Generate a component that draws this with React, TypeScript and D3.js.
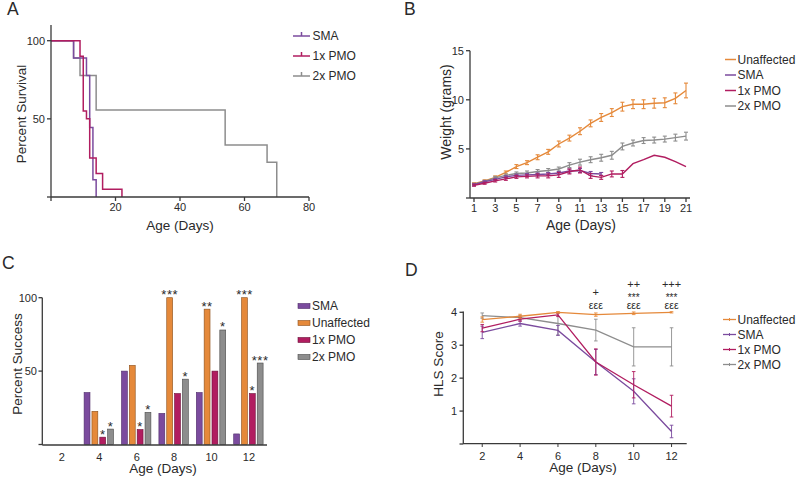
import React from "react";
import * as d3 from "d3";

// ---------- Panel A: survival ----------
const smaSurvDays = [0, 7, 11, 12, 13, 14];
const smaSurvPct = [100, 88.9, 77.8, 44.4, 11.1, 0];
const pmo1SurvDays = [0, 9, 10, 11, 12, 14, 16, 22];
const pmo1SurvPct = [100, 90, 55, 50, 25, 15, 5, 0];
const pmo2SurvDays = [0, 7, 9, 14, 54, 67, 70];
const pmo2SurvPct = [100, 88.9, 77.8, 55.6, 33.3, 22.2, 0];
const survXTicks = [0, 20, 40, 60, 80];
const survYTicks = [0, 50, 100];

// ---------- Panel B: weight ----------
const weightDays = [1, 2, 3, 4, 5, 6, 7, 8, 9, 10, 11, 12, 13, 14, 15, 16, 17, 18, 19, 20, 21];
const unafWeight = [1.45, 1.75, 2.1, 2.6, 3.2, 3.6, 4.15, 4.7, 5.5, 6.1, 6.8, 7.6, 8.2, 8.7, 9.3, 9.55, 9.55, 9.65, 9.7, 10.15, 10.95];
const unafWeightErr = [0.1, 0.1, 0.15, 0.15, 0.2, 0.2, 0.25, 0.25, 0.3, 0.3, 0.35, 0.35, 0.4, 0.4, 0.45, 0.45, 0.45, 0.5, 0.5, 0.55, 0.75];
const pmo2Weight = [1.4, 1.7, 2.05, 2.3, 2.5, 2.55, 2.7, 2.8, 2.95, 3.35, 3.65, 3.9, 4.1, 4.35, 5.25, 5.6, 5.85, 5.9, 6.0, 6.15, 6.3];
const pmo2WeightErr = [0.1, 0.1, 0.15, 0.15, 0.15, 0.2, 0.2, 0.2, 0.2, 0.25, 0.3, 0.3, 0.35, 0.4, 0.35, 0.3, 0.3, 0.3, 0.3, 0.35, 0.4];
const smaWeight = [1.35, 1.65, 1.9, 2.15, 2.3, 2.35, 2.4, 2.45, 2.55, 2.75, 2.8, 2.5, 2.45];
const smaWeightErr = [0.1, 0.1, 0.1, 0.12, 0.12, 0.15, 0.15, 0.15, 0.15, 0.2, 0.2, 0.2, 0.15];
const pmo1Weight = [1.3, 1.5, 1.75, 1.95, 2.15, 2.2, 2.25, 2.25, 2.35, 2.7, 2.85, 2.25, 2.1, 2.45, 2.45, 3.5, 3.9, 4.35, 4.15, 3.7, 3.2];
const pmo1WeightErr = [0.1, 0.1, 0.12, 0.15, 0.15, 0.15, 0.2, 0.2, 0.25, 0.25, 0.3, 0.25, 0.2, 0.3, 0.35, 0, 0, 0, 0, 0, 0];
const weightXTicks = [1, 3, 5, 7, 9, 11, 13, 15, 17, 19, 21];
const weightYTicks = [0, 5, 10, 15];

// ---------- Panel C: righting success ----------
const successDays = ["2", "4", "6", "8", "10", "12"];
const smaSuccess = [0, 35.4, 50, 21.2, 35.4, 7.2];
const unafSuccess = [0, 22.6, 53.9, 100, 92.2, 100];
const pmo1Success = [0, 5, 10.2, 34.7, 50, 34.7];
const pmo2Success = [0, 10.5, 21.9, 44.5, 78, 55.5];
const smaStars = ["", "", "", "", "", ""];
const unafStars = ["", "", "", "***", "**", "***"];
const pmo1Stars = ["", "*", "*", "", "", "*"];
const pmo2Stars = ["", "*", "*", "*", "*", "***"];
const successYTicks = [0, 50, 100];

// ---------- Panel D: HLS score ----------
const hlsDays = [2, 4, 6, 8, 10, 12];
const unafHls = [3.78, 3.88, 4.0, 3.93, 3.97, 4.0];
const unafHlsErr = [0.08, 0.06, 0.02, 0.05, 0.04, 0.02];
const smaHls = [3.39, 3.66, 3.45, 2.49, 1.6, 0.38];
const smaHlsErr = [0.19, 0.08, 0.15, 0.38, 0.38, 0.19];
const pmo1Hls = [3.52, 3.79, 3.92, 2.49, 1.8, 1.15];
const pmo1HlsErr = [0.11, 0.06, 0.05, 0.4, 0.4, 0.33];
const pmo2Hls = [3.9, 3.84, 3.66, 3.46, 2.95, 2.95];
const pmo2HlsErr = [0.08, 0.06, 0.35, 0.33, 0.58, 0.58];
const hlsPlus = ["", "", "", "+", "++", "+++"];
const hlsStars = ["", "", "", "", "***", "***"];
const hlsEps = ["", "", "", "εεε", "εεε", "εεε"];
const hlsYTicks = [0, 1, 2, 3, 4];

const C_SMA = "#7B4B9E";
const C_UNAF = "#E5893A";
const C_PMO1 = "#B11D60";
const C_PMO2 = "#8D8D8D";
const AX = "#3a3a3a";
const TXT = "#2a2a2a";
const FONT = "'Liberation Sans', Arial, Helvetica, sans-serif";

type Pt = { x: number; y: number; e?: number };

function zip(xs: number[], ys: number[], es?: number[]): Pt[] {
  return ys.map((y, i) => ({ x: xs[i], y, e: es ? es[i] : 0 }));
}

function ErrBars({ pts, xs, ys, color, cap = 2, w = 1 }: any) {
  return (
    <g stroke={color} strokeWidth={w}>
      {pts.filter((p: Pt) => (p.e || 0) > 0).map((p: Pt, i: number) => {
        const x = xs(p.x);
        const y1 = ys(p.y - (p.e || 0));
        const y2 = ys(p.y + (p.e || 0));
        return (
          <g key={i}>
            <line x1={x} x2={x} y1={y1} y2={y2} />
            <line x1={x - cap} x2={x + cap} y1={y1} y2={y1} />
            <line x1={x - cap} x2={x + cap} y1={y2} y2={y2} />
          </g>
        );
      })}
    </g>
  );
}

function PanelA() {
  const x = d3.scaleLinear().domain([0, 80]).range([51, 309]);
  const y = d3.scaleLinear().domain([0, 100]).range([197, 40.7]);
  const line = d3
    .line<Pt>()
    .x((d) => x(d.x))
    .y((d) => y(d.y))
    .curve(d3.curveStepAfter);
  const series = [
    { name: "SMA", pts: zip(smaSurvDays, smaSurvPct), c: C_SMA },
    { name: "1x PMO", pts: zip(pmo1SurvDays, pmo1SurvPct), c: C_PMO1 },
    { name: "2x PMO", pts: zip(pmo2SurvDays, pmo2SurvPct), c: C_PMO2 },
  ];
  const drawOrder = [series[2], series[0], series[1]];
  return (
    <g>
      <text x={7} y={15} fontSize={17.5} fill={TXT}>A</text>
      {drawOrder.map((s) => (
        <path key={s.name} d={line(s.pts) || ""} fill="none" stroke={s.c} strokeWidth={1.5} />
      ))}
      <line x1={51} x2={51} y1={25} y2={197} stroke={AX} strokeWidth={1.3} />
      <line x1={51} x2={309} y1={197} y2={197} stroke={AX} strokeWidth={1.3} />
      {survXTicks.map((t) => (
        <g key={t}>
          <line x1={x(t)} x2={x(t)} y1={197} y2={201} stroke={AX} strokeWidth={1.3} />
          {t > 0 && (
            <text x={x(t)} y={210.5} fontSize={11} textAnchor="middle" fill={TXT}>{t}</text>
          )}
        </g>
      ))}
      {survYTicks.map((t) => (
        <g key={t}>
          <line x1={47} x2={51} y1={y(t)} y2={y(t)} stroke={AX} strokeWidth={1.3} />
          {t > 0 && (
            <text x={45} y={y(t)} dy="0.35em" fontSize={11} textAnchor="end" fill={TXT}>{t}</text>
          )}
        </g>
      ))}
      <text x={180} y={229.5} fontSize={13.5} textAnchor="middle" fill={TXT}>Age (Days)</text>
      <text transform="translate(25.5,114) rotate(-90)" fontSize={13.5} textAnchor="middle" fill={TXT}>Percent Survival</text>
      {series.map((s, i) => {
        const ly = 36 + i * 20;
        return (
          <g key={s.name}>
            <line x1={293} x2={310} y1={ly} y2={ly} stroke={s.c} strokeWidth={1.5} />
            <line x1={301.5} x2={301.5} y1={ly - 4} y2={ly} stroke={s.c} strokeWidth={1.5} />
            <text x={312.5} y={ly} dy="0.36em" fontSize={12} fill={TXT}>{s.name}</text>
          </g>
        );
      })}
    </g>
  );
}

function PanelB() {
  const x = d3.scaleLinear().domain([1, 21]).range([474, 686]);
  const y = d3.scaleLinear().domain([0, 15]).range([198, 50.7]);
  const line = d3.line<Pt>().x((d) => x(d.x)).y((d) => y(d.y));
  const series = [
    { name: "Unaffected", pts: zip(weightDays, unafWeight, unafWeightErr), c: C_UNAF },
    { name: "SMA", pts: zip(weightDays, smaWeight, smaWeightErr), c: C_SMA },
    { name: "1x PMO", pts: zip(weightDays, pmo1Weight, pmo1WeightErr), c: C_PMO1 },
    { name: "2x PMO", pts: zip(weightDays, pmo2Weight, pmo2WeightErr), c: C_PMO2 },
  ];
  const drawOrder = [series[0], series[3], series[1], series[2]];
  return (
    <g>
      <text x={404} y={15} fontSize={17.5} fill={TXT}>B</text>
      {drawOrder.map((s) => (
        <g key={s.name}>
          <path d={line(s.pts) || ""} fill="none" stroke={s.c} strokeWidth={1.4} />
          <ErrBars pts={s.pts} xs={x} ys={y} color={s.c} cap={2} w={1.1} />
        </g>
      ))}
      <line x1={470} x2={470} y1={50.7} y2={198} stroke={AX} strokeWidth={1.3} />
      <line x1={470} x2={690} y1={198} y2={198} stroke={AX} strokeWidth={1.3} />
      {weightXTicks.map((t) => (
        <g key={t}>
          <line x1={x(t)} x2={x(t)} y1={198} y2={202} stroke={AX} strokeWidth={1.3} />
          <text x={x(t)} y={212} fontSize={11} textAnchor="middle" fill={TXT}>{t}</text>
        </g>
      ))}
      {weightYTicks.map((t) => (
        <g key={t}>
          <line x1={466} x2={470} y1={y(t)} y2={y(t)} stroke={AX} strokeWidth={1.3} />
          {t > 0 && (
            <text x={464} y={y(t)} dy="0.35em" fontSize={11} textAnchor="end" fill={TXT}>{t}</text>
          )}
        </g>
      ))}
      <text x={581} y={229.5} fontSize={14} textAnchor="middle" fill={TXT}>Age (Days)</text>
      <text transform="translate(450.5,112) rotate(-90)" fontSize={14} textAnchor="middle" fill={TXT}>Weight (grams)</text>
      {series.map((s, i) => {
        const ly = 59.5 + i * 15.5;
        return (
          <g key={s.name}>
            <line x1={725} x2={736} y1={ly} y2={ly} stroke={s.c} strokeWidth={1.5} />
            <text x={737.5} y={ly} dy="0.36em" fontSize={12} fill={TXT}>{s.name}</text>
          </g>
        );
      })}
    </g>
  );
}

function PanelC() {
  const x0 = d3.scaleBand<string>().domain(successDays).range([42.7, 267.1]);
  const keys = ["SMA", "Unaffected", "1x PMO", "2x PMO"];
  const x1 = d3.scaleBand<string>().domain(keys).range([4, 33.4]).paddingInner(0.25);
  const y = d3.scaleLinear().domain([0, 100]).range([444.5, 297.7]);
  const series = [
    { name: "SMA", vals: smaSuccess, stars: smaStars, c: C_SMA, s: "#4f2d6a" },
    { name: "Unaffected", vals: unafSuccess, stars: unafStars, c: C_UNAF, s: "#8a4f1c" },
    { name: "1x PMO", vals: pmo1Success, stars: pmo1Stars, c: C_PMO1, s: "#6a0f38" },
    { name: "2x PMO", vals: pmo2Success, stars: pmo2Stars, c: C_PMO2, s: "#4a4a4a" },
  ];
  return (
    <g>
      <text x={2} y={269} fontSize={17.5} fill={TXT}>C</text>
      {series.map((s) =>
        s.vals.map((v, i) => {
          const bx = (x0(successDays[i]) || 0) + (x1(s.name) || 0);
          const bw = x1.bandwidth();
          return (
            <g key={s.name + i}>
              {v > 0 && (
                <rect x={bx} y={y(v)} width={bw} height={y(0) - y(v)} fill={s.c} stroke={s.s} strokeWidth={0.6} />
              )}
              {s.stars[i] && (
                <text x={bx + bw / 2} y={y(v) + 1.5} fontSize={13} letterSpacing={0.5} textAnchor="middle" fill={TXT}>{s.stars[i]}</text>
              )}
            </g>
          );
        })
      )}
      <line x1={42.3} x2={42.3} y1={297.7} y2={445} stroke={AX} strokeWidth={1.3} />
      <line x1={42.3} x2={267} y1={445} y2={445} stroke={AX} strokeWidth={1.3} />
      {successDays.map((d) => (
        <text key={d} x={(x0(d) || 0) + x0.bandwidth() / 2 + 0.5} y={460.5} fontSize={11} textAnchor="middle" fill={TXT}>{d}</text>
      ))}
      {successYTicks.map((t) => (
        <g key={t}>
          <line x1={38.5} x2={42.3} y1={y(t)} y2={y(t)} stroke={AX} strokeWidth={1.3} />
          {t > 0 && (
            <text x={37} y={y(t)} dy="0.35em" fontSize={11} textAnchor="end" fill={TXT}>{t}</text>
          )}
        </g>
      ))}
      <text x={163} y={472.5} fontSize={13.5} textAnchor="middle" fill={TXT}>Age (Days)</text>
      <text transform="translate(21.5,364) rotate(-90)" fontSize={13.5} textAnchor="middle" fill={TXT}>Percent Success</text>
      {series.map((s, i) => {
        const ly = 306 + i * 17;
        return (
          <g key={s.name}>
            <rect x={298} y={ly - 2.5} width={12} height={5} fill={s.c} stroke={s.s} strokeWidth={0.6} />
            <text x={312} y={ly} dy="0.36em" fontSize={12} fill={TXT}>{s.name}</text>
          </g>
        );
      })}
    </g>
  );
}

function PanelD() {
  const x = d3.scaleLinear().domain([1, 12.8]).range([463.3, 686.7]);
  const y = d3.scaleLinear().domain([0, 4]).range([444, 312.3]);
  const line = d3.line<Pt>().x((d) => x(d.x)).y((d) => y(d.y));
  const series = [
    { name: "Unaffected", pts: zip(hlsDays, unafHls, unafHlsErr), c: C_UNAF },
    { name: "SMA", pts: zip(hlsDays, smaHls, smaHlsErr), c: C_SMA },
    { name: "1x PMO", pts: zip(hlsDays, pmo1Hls, pmo1HlsErr), c: C_PMO1 },
    { name: "2x PMO", pts: zip(hlsDays, pmo2Hls, pmo2HlsErr), c: C_PMO2 },
  ];
  const drawOrder = [series[3], series[1], series[2], series[0]];
  return (
    <g>
      <text x={405} y={276} fontSize={17.5} fill={TXT}>D</text>
      {drawOrder.map((s) => (
        <g key={s.name}>
          <path d={line(s.pts) || ""} fill="none" stroke={s.c} strokeWidth={1.3} />
          <ErrBars pts={s.pts} xs={x} ys={y} color={s.c} cap={1.8} w={0.9} />
        </g>
      ))}
      <line x1={463.3} x2={463.3} y1={311.5} y2={444} stroke={AX} strokeWidth={1.3} />
      <line x1={463.3} x2={686.7} y1={443.6} y2={443.6} stroke={AX} strokeWidth={1.3} />
      {hlsDays.map((t, i) => (
        <g key={t}>
          <line x1={x(t)} x2={x(t)} y1={443.6} y2={447} stroke={AX} strokeWidth={1} />
          <text x={x(t)} y={460} fontSize={11} textAnchor="middle" fill={TXT}>{t}</text>
          {hlsPlus[i] && (
            <text x={x(t)} y={hlsStars[i] ? 287.5 : 295.5} fontSize={11} textAnchor="middle" fill={TXT}>{hlsPlus[i]}</text>
          )}
          {hlsStars[i] && (
            <text x={x(t)} y={300.5} fontSize={10} textAnchor="middle" fill={TXT}>{hlsStars[i]}</text>
          )}
          {hlsEps[i] && (
            <text x={x(t)} y={308.5} fontSize={10.5} textAnchor="middle" fill={TXT}>{hlsEps[i]}</text>
          )}
        </g>
      ))}
      {hlsYTicks.map((t) => (
        <g key={t}>
          <line x1={459.5} x2={463.3} y1={y(t)} y2={y(t)} stroke={AX} strokeWidth={1.3} />
          {t > 0 && (
            <text x={457} y={y(t)} dy="0.35em" fontSize={11} textAnchor="end" fill={TXT}>{t}</text>
          )}
        </g>
      ))}
      <text x={583} y={471.5} fontSize={13.5} textAnchor="middle" fill={TXT}>Age (Days)</text>
      <text transform="translate(443,364) rotate(-90)" fontSize={13.5} textAnchor="middle" fill={TXT}>HLS Score</text>
      {series.map((s, i) => {
        const ly = 319.5 + i * 15;
        return (
          <g key={s.name}>
            <line x1={723} x2={736} y1={ly} y2={ly} stroke={s.c} strokeWidth={1.3} />
            <line x1={729.5} x2={729.5} y1={ly - 1.5} y2={ly + 1.5} stroke={s.c} strokeWidth={1} />
            <text x={737.5} y={ly} dy="0.36em" fontSize={12} fill={TXT}>{s.name}</text>
          </g>
        );
      })}
    </g>
  );
}

export default function App() {
  return (
    <svg
      width={797}
      height={478}
      viewBox="0 0 797 478"
      style={{ position: "absolute", left: 0, top: 0, background: "#fff", fontFamily: FONT }}
    >
      <rect width={797} height={478} fill="#fff" />
      <PanelA />
      <PanelB />
      <PanelC />
      <PanelD />
    </svg>
  );
}
